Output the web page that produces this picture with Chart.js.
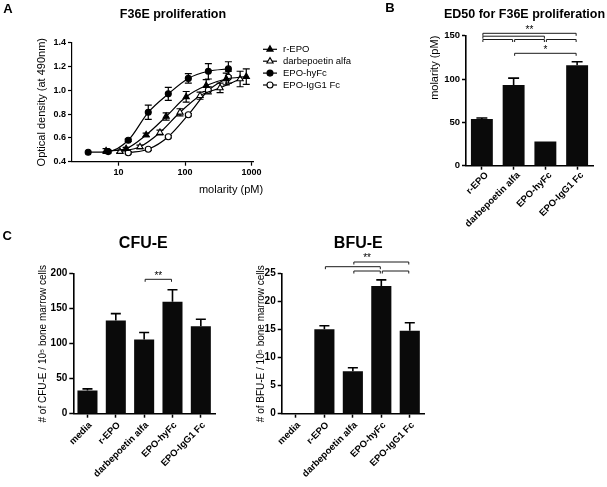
<!DOCTYPE html>
<html><head><meta charset="utf-8">
<script src="https://cdn.jsdelivr.net/npm/chart.js@4.4.0/dist/chart.umd.min.js"></script>
<style>
html,body{margin:0;padding:0;background:#fff;}
body{width:607px;height:487px;position:relative;overflow:hidden;}
canvas{position:absolute;}
</style></head><body>
<canvas id="cA" style="left:0px;top:0px" width="360" height="230"></canvas>
<canvas id="cB" style="left:360px;top:0px" width="247" height="232"></canvas>
<canvas id="cC1" style="left:0px;top:230px" width="290" height="257"></canvas>
<canvas id="cC2" style="left:240px;top:230px" width="200" height="257"></canvas>
<script>
const FONT = "'Liberation Sans', Arial, Helvetica, sans-serif";

// ---------- Panel A data ----------
const seriesNames = ['r-EPO', 'darbepoetin alfa', 'EPO-hyFc', 'EPO-IgG1 Fc'];
const rEpoConc = [6.5, 13, 26, 52, 104, 208, 416, 832];
const rEpoOD   = [0.49, 0.51, 0.625, 0.78, 0.945, 1.04, 1.095, 1.115];
const rEpoErr  = [0.02, 0.01, 0.015, 0.03, 0.045, 0.05, 0.05, 0.065];
const darbeConc = [10.5, 21, 42, 84, 168, 336, 672];
const darbeOD   = [0.485, 0.525, 0.645, 0.815, 0.955, 1.02, 1.095];
const darbeErr  = [0.01, 0.015, 0.02, 0.03, 0.03, 0.04, 0.065];
const hyFcConc = [3.5, 7, 14, 28, 56, 112, 224, 448];
const hyFcOD   = [0.48, 0.485, 0.58, 0.815, 0.97, 1.10, 1.16, 1.18];
const hyFcErr  = [0, 0.01, 0.01, 0.06, 0.055, 0.04, 0.065, 0.06];
const igg1Conc = [14, 28, 56, 112, 224, 448];
const igg1OD   = [0.475, 0.505, 0.61, 0.795, 1.0, 1.11];
const igg1Err  = [0.01, 0.01, 0.01, 0.01, 0.03, 0.05];
const odTicks = [0.4, 0.6, 0.8, 1.0, 1.2, 1.4];
const molarityTicks = [10, 100, 1000];

// ---------- Panel B data ----------
const edCategories = ['r-EPO', 'darbepoetin alfa', 'EPO-hyFc', 'EPO-IgG1 Fc'];
const ed50    = [54, 93, 28, 116];
const ed50Err = [1, 8, 0, 4];
const ed50Ticks = [0, 50, 100, 150];
const sigPairsB = [[0, 3], [0, 2], [0, 1], [1, 2], [2, 3], [1, 3]];
const sigMarksB = [{from: 0, to: 3, text: '**'}, {from: 1, to: 3, text: '*'}];

// ---------- Panel C data ----------
const colonyCategories = ['media', 'r-EPO', 'darbepoetin alfa', 'EPO-hyFc', 'EPO-IgG1 Fc'];
const cfuE    = [33, 133, 106, 160, 125];
const cfuEErr = [2.5, 10, 10, 17, 10];
const cfuTicks = [0, 50, 100, 150, 200];
const sigPairsCFU = [[2, 3]];
const sigMarksCFU = [{from: 2, to: 3, text: '**'}];
const bfuE    = [0, 15.1, 7.6, 22.8, 14.8];
const bfuEErr = [0, 0.6, 0.6, 1.1, 1.45];
const bfuTicks = [0, 5, 10, 15, 20, 25];
const sigPairsBFU = [[2, 4], [1, 3], [2, 3], [3, 4]];
const sigMarksBFU = [{from: 1, to: 4, text: '**'}];

// ---------- defaults ----------
Chart.defaults.font.family = FONT;
Chart.defaults.color = '#000';
Chart.defaults.animation = false;
Chart.defaults.plugins.legend.display = false;
Chart.defaults.plugins.tooltip.enabled = false;

// ---------- plugins ----------
const textPlugin = {
  id: 'texts',
  afterDraw(chart, args, opts) {
    const ctx = chart.ctx;
    (opts.items || []).forEach(it => {
      ctx.save();
      ctx.font = (it.bold ? 'bold ' : '') + it.size + 'px ' + FONT;
      ctx.fillStyle = '#000';
      ctx.textAlign = it.align || 'center';
      ctx.textBaseline = 'middle';
      ctx.translate(it.x, it.y);
      if (it.rot) ctx.rotate(it.rot * Math.PI / 180);
      ctx.fillText(it.t, 0, 0);
      ctx.restore();
    });
  }
};

function drawMarker(ctx, style, r, x, y) {
  ctx.beginPath();
  if (style === 'triangle') {
    let a = 0;
    ctx.moveTo(x + Math.sin(a) * r, y - Math.cos(a) * r);
    a += 2 * Math.PI / 3;
    ctx.lineTo(x + Math.sin(a) * r, y - Math.cos(a) * r);
    a += 2 * Math.PI / 3;
    ctx.lineTo(x + Math.sin(a) * r, y - Math.cos(a) * r);
    ctx.closePath();
  } else {
    ctx.arc(x, y, r, 0, Math.PI * 2);
  }
  ctx.fill();
  ctx.stroke();
}

const legendPlugin = {
  id: 'seriesLegend',
  afterDraw(chart, args, opts) {
    if (opts.x === undefined) return;
    const ctx = chart.ctx;
    chart.data.datasets.forEach((ds, i) => {
      const y = opts.y + i * opts.gap;
      ctx.save();
      ctx.strokeStyle = '#000';
      ctx.lineWidth = 1.2;
      ctx.beginPath();
      ctx.moveTo(opts.x, y);
      ctx.lineTo(opts.x + opts.len, y);
      ctx.stroke();
      ctx.fillStyle = ds.pointBackgroundColor;
      ctx.lineWidth = ds.pointBorderWidth;
      drawMarker(ctx, ds.pointStyle, ds.pointRadius, opts.x + opts.len / 2, y);
      ctx.fillStyle = '#000';
      ctx.font = opts.size + 'px ' + FONT;
      ctx.textAlign = 'left';
      ctx.textBaseline = 'middle';
      ctx.fillText(ds.label, opts.textX, y);
      ctx.restore();
    });
  }
};

const xyErrPlugin = {
  id: 'xyErr',
  beforeDatasetsDraw(chart, args, opts) {
    if (!opts.errors) return;
    const ctx = chart.ctx, ys = chart.scales.y, hw = opts.cap || 3.5;
    ctx.save();
    ctx.strokeStyle = '#000';
    ctx.lineWidth = 1.2;
    chart.data.datasets.forEach((ds, d) => {
      const meta = chart.getDatasetMeta(d);
      const errs = opts.errors[d];
      meta.data.forEach((pt, i) => {
        const e = errs[i];
        if (!e) return;
        const v = ds.data[i].y;
        const y1 = ys.getPixelForValue(v + e), y2 = ys.getPixelForValue(v - e);
        ctx.beginPath();
        ctx.moveTo(pt.x, y1); ctx.lineTo(pt.x, y2);
        ctx.moveTo(pt.x - hw, y1); ctx.lineTo(pt.x + hw, y1);
        ctx.moveTo(pt.x - hw, y2); ctx.lineTo(pt.x + hw, y2);
        ctx.stroke();
      });
    });
    ctx.restore();
  }
};

const barErrPlugin = {
  id: 'barErr',
  afterDatasetsDraw(chart, args, opts) {
    if (!opts.errors) return;
    const ctx = chart.ctx, ys = chart.scales.y;
    const meta = chart.getDatasetMeta(0);
    const vals = chart.data.datasets[0].data;
    ctx.save();
    ctx.strokeStyle = '#000';
    ctx.lineWidth = 1.6;
    meta.data.forEach((bar, i) => {
      const e = opts.errors[i];
      if (!e) return;
      const yb = ys.getPixelForValue(vals[i]);
      const yt = ys.getPixelForValue(vals[i] + e);
      const hw = bar.width / 4;
      ctx.beginPath();
      ctx.moveTo(bar.x, yb); ctx.lineTo(bar.x, yt);
      ctx.moveTo(bar.x - hw, yt); ctx.lineTo(bar.x + hw, yt);
      ctx.stroke();
    });
    ctx.restore();
  }
};

const bracketPlugin = {
  id: 'brackets',
  afterDraw(chart, args, opts) {
    if (!opts.pairs) return;
    const ctx = chart.ctx, xs = chart.scales.x, top = chart.chartArea.top;
    ctx.save();
    ctx.strokeStyle = '#1a1a1a';
    ctx.lineWidth = 1;
    opts.pairs.forEach((p, k) => {
      const x1 = xs.getPixelForValue(p[0]) + 1, x2 = xs.getPixelForValue(p[1]) - 1;
      const y = top + opts.lineDy[k];
      ctx.beginPath();
      ctx.moveTo(x1, y + 2.5); ctx.lineTo(x1, y); ctx.lineTo(x2, y); ctx.lineTo(x2, y + 2.5);
      ctx.stroke();
    });
    ctx.fillStyle = '#000';
    ctx.font = '10px ' + FONT;
    ctx.textAlign = 'center';
    ctx.textBaseline = 'middle';
    (opts.marks || []).forEach((m, k) => {
      const x = (xs.getPixelForValue(m.from) + xs.getPixelForValue(m.to)) / 2;
      ctx.fillText(m.text, x, top + opts.markDy[k]);
    });
    ctx.restore();
  }
};

Chart.register(textPlugin, legendPlugin, xyErrPlugin, barErrPlugin, bracketPlugin);

// ---------- helpers ----------
const fixW = w => s => { s.width = w; };
const fixH = h => s => { s.height = h; };
const axisGrid = (w, offset) => ({display: true, drawOnChartArea: false, drawTicks: true, tickLength: 4, tickColor: '#000', tickWidth: w, offset: !!offset});
const axisBorder = w => ({display: true, color: '#000', width: w});

function lineSeries(label, xs, ys, style, filled) {
  return {
    label,
    data: xs.map((x, i) => ({x, y: ys[i]})),
    borderColor: '#000', borderWidth: 1.2,
    backgroundColor: filled ? '#000' : '#fff',
    pointStyle: style,
    pointRadius: style === 'triangle' ? 3.6 : 3,
    pointBorderWidth: 1.1,
    pointBackgroundColor: filled ? '#000' : '#fff',
    pointBorderColor: '#000',
    cubicInterpolationMode: 'monotone',
    fill: false
  };
}

// ---------- Panel A ----------
new Chart(document.getElementById('cA'), {
  type: 'line',
  data: {datasets: [
    lineSeries(seriesNames[0], rEpoConc, rEpoOD, 'triangle', true),
    lineSeries(seriesNames[1], darbeConc, darbeOD, 'triangle', false),
    lineSeries(seriesNames[2], hyFcConc, hyFcOD, 'circle', true),
    lineSeries(seriesNames[3], igg1Conc, igg1OD, 'circle', false)
  ]},
  options: {
    responsive: false,
    layout: {padding: {left: 32, top: 42.7, right: 107, bottom: 48.3}},
    scales: {
      x: {
        type: 'logarithmic', min: 2, max: 1050,
        afterBuildTicks: s => { s.ticks = molarityTicks.map(v => ({value: v})); },
        afterFit: fixH(20),
        ticks: {callback: v => String(v), font: {size: 9, weight: 'bold'}, padding: 1, maxRotation: 0, autoSkip: false},
        grid: axisGrid(1.2), border: axisBorder(1.2)
      },
      y: {
        min: 0.4, max: 1.4,
        afterBuildTicks: s => { s.ticks = odTicks.map(v => ({value: v})); },
        afterFit: fixW(40),
        ticks: {callback: v => Number(v).toFixed(1), font: {size: 9, weight: 'bold'}, padding: 2},
        title: {display: true, text: 'Optical density (at 490nm)', font: {size: 11}, padding: {top: 3, bottom: 0}},
        grid: axisGrid(1.2), border: axisBorder(1.2)
      }
    },
    plugins: {
      xyErr: {errors: [rEpoErr, darbeErr, hyFcErr, igg1Err], cap: 3.5},
      seriesLegend: {x: 263, len: 14, y: 49.3, gap: 11.9, textX: 283, size: 9.5},
      texts: {items: [
        {t: 'A', x: 8, y: 9, size: 13, bold: true},
        {t: 'F36E proliferation', x: 173, y: 15, size: 12.5, bold: true},
        {t: 'molarity (pM)', x: 231, y: 190, size: 11}
      ]}
    }
  }
});

// ---------- bar chart builder ----------
function barChart(id, cats, vals, errs, ticksArr, yMax, cfg) {
  return new Chart(document.getElementById(id), {
    type: 'bar',
    data: {labels: cats, datasets: [{data: vals, backgroundColor: '#0a0a0a', borderWidth: 0, barPercentage: cfg.barPct, categoryPercentage: 1}]},
    options: {
      responsive: false,
      layout: {padding: cfg.padding},
      scales: {
        x: {
          afterFit: fixH(cfg.xH),
          ticks: {minRotation: 45, maxRotation: 45, autoSkip: false, font: {size: 9.5, weight: 'bold'}, padding: cfg.xPad, labelOffset: cfg.labelOffset},
          grid: axisGrid(1.5, false), border: axisBorder(1.6)
        },
        y: {
          min: 0, max: yMax,
          afterBuildTicks: s => { s.ticks = ticksArr.map(v => ({value: v})); },
          afterFit: fixW(cfg.yW),
          ticks: {font: {size: cfg.yTickSize, weight: 'bold'}, padding: 2},
          title: {display: true, text: cfg.yTitle, align: cfg.titleAlign || 'center', font: {size: cfg.titleSize}, padding: {top: cfg.titlePad, bottom: 0}},
          grid: axisGrid(1.5), border: axisBorder(1.6)
        }
      },
      plugins: {
        barErr: {errors: errs},
        brackets: cfg.brackets,
        texts: {items: cfg.texts}
      }
    }
  });
}

// ---------- Panel B ----------
barChart('cB', edCategories, ed50, ed50Err, ed50Ticks, 150, {
  padding: {left: 66, top: 35.7, right: 14, bottom: 0},
  xH: 66.3, yW: 40, barPct: 0.69, xPad: 0, labelOffset: 5, yTickSize: 9.5,
  yTitle: 'molarity (pM)', titleAlign: 'end', titleSize: 11, titlePad: 2.4,
  brackets: {pairs: sigPairsB, lineDy: [-2.4, 0.5, 3.8, 3.8, 3.8, 17.6], marks: sigMarksB, markDy: [-5.6, 14.6]},
  texts: [
    {t: 'B', x: 30, y: 8.5, size: 13, bold: true},
    {t: 'ED50 for F36E proliferation', x: 164.5, y: 15, size: 12.5, bold: true}
  ]
});

// ---------- Panel C: CFU-E ----------
barChart('cC1', colonyCategories, cfuE, cfuEErr, cfuTicks, 200, {
  padding: {left: 33.3, top: 43.7, right: 75, bottom: 0},
  xH: 73.3, yW: 40, barPct: 0.707, xPad: 2, labelOffset: 3, yTickSize: 10,
  yTitle: '# of CFU-E / 10\u2075 bone marrow cells', titleSize: 10, titlePad: 3.7,
  brackets: {pairs: sigPairsCFU, lineDy: [5.6], marks: sigMarksCFU, markDy: [2.3]},
  texts: [
    {t: 'C', x: 7.2, y: 6.5, size: 13, bold: true},
    {t: 'CFU-E', x: 143.3, y: 13.3, size: 16, bold: true}
  ]
});

// ---------- Panel C: BFU-E ----------
barChart('cC2', colonyCategories, bfuE, bfuEErr, bfuTicks, 25, {
  padding: {left: 11.7, top: 43.7, right: 16, bottom: 0},
  xH: 73.3, yW: 30, barPct: 0.707, xPad: 2, labelOffset: 3, yTickSize: 10,
  yTitle: '# of BFU-E / 10\u2075 bone marrow cells', titleSize: 10, titlePad: 3.3,
  brackets: {pairs: sigPairsBFU, lineDy: [-11.7, -7, -2.7, -2.7], marks: sigMarksBFU, markDy: [-15]},
  texts: [
    {t: 'BFU-E', x: 118.3, y: 13.3, size: 16, bold: true}
  ]
});
</script>
</body></html>
